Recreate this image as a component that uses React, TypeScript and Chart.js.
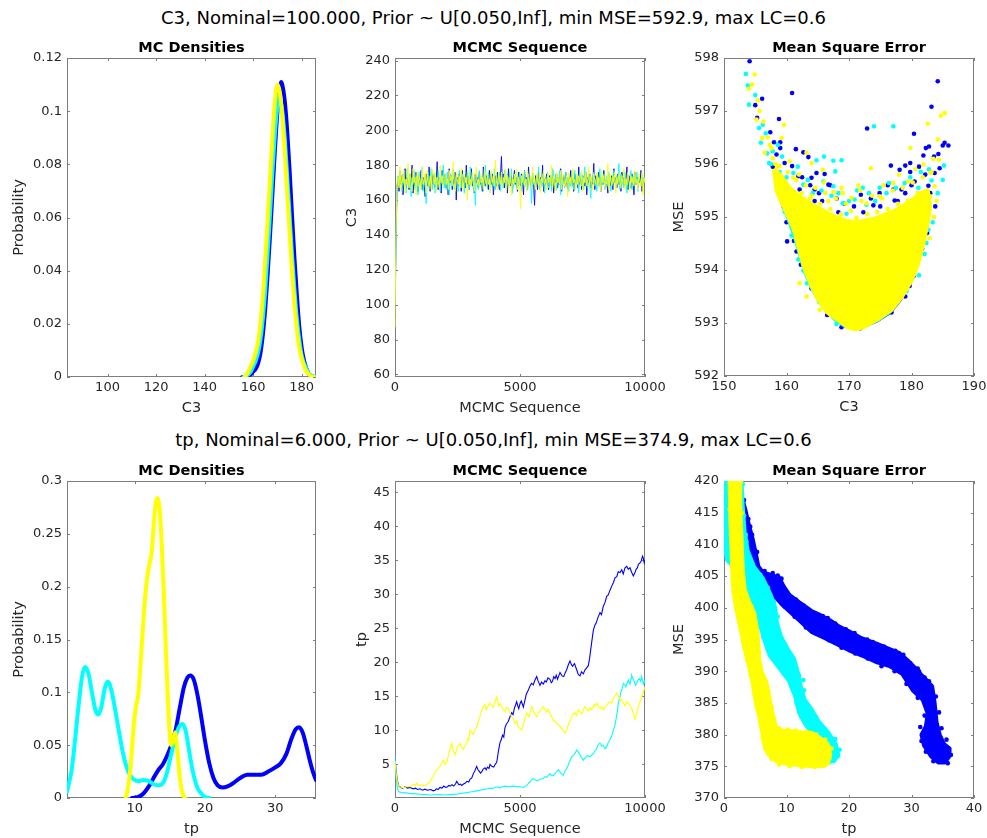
import React, { useEffect, useRef } from 'react';
import { Chart, registerables } from 'chart.js';

Chart.register(...registerables);

const FONT = '"DejaVu Sans", "Liberation Sans", sans-serif';
const BLUE = '#0000ff';
const CYAN = '#00ffff';
const YELLOW = '#ffff00';
const AXIS_COLOR = '#7d7d7d';
const TICK_TEXT = '#262626';

const SUPTITLE_TOP = 'C3, Nominal=100.000, Prior ~ U[0.050,Inf], min MSE=592.9, max LC=0.6';
const SUPTITLE_BOTTOM = 'tp, Nominal=6.000, Prior ~ U[0.050,Inf], min MSE=374.9, max LC=0.6';

// ---------- tick labels ----------
const C3_DENS_XTICKS = [100, 120, 140, 160, 180];
const C3_DENS_YTICKS = [0, 0.02, 0.04, 0.06, 0.08, 0.1, 0.12];
const SEQ_XTICKS = [0, 5000, 10000];
const C3_SEQ_YTICKS = [60, 80, 100, 120, 140, 160, 180, 200, 220, 240];
const C3_MSE_XTICKS = [150, 160, 170, 180, 190];
const C3_MSE_YTICKS = [592, 593, 594, 595, 596, 597, 598];
const TP_DENS_XTICKS = [10, 20, 30];
const TP_DENS_YTICKS = [0, 0.05, 0.1, 0.15, 0.2, 0.25, 0.3];
const TP_SEQ_YTICKS = [5, 10, 15, 20, 25, 30, 35, 40, 45];
const TP_MSE_XTICKS = [0, 10, 20, 30, 40];
const TP_MSE_YTICKS = [370, 375, 380, 385, 390, 395, 400, 405, 410, 415, 420];

// ---------- C3 densities ----------
const C3_DENS_BLUE_X = [155.5, 157, 158, 159, 160, 161, 162, 163, 164, 165, 166, 167, 168, 169, 170, 171, 171.5, 172, 173, 174, 175, 176, 177, 178, 179, 180, 181, 182, 183, 184, 185];
const C3_DENS_BLUE_Y = [0, 0, 0.0005, 0.001, 0.002, 0.003, 0.005, 0.009, 0.016, 0.026, 0.039, 0.054, 0.07, 0.086, 0.1, 0.109, 0.111, 0.11, 0.104, 0.093, 0.078, 0.061, 0.045, 0.031, 0.019, 0.011, 0.006, 0.003, 0.001, 0.0005, 0];
const C3_DENS_CYAN_X = [156, 158, 159, 160, 161, 162, 163, 164, 165, 166, 167, 168, 169, 170, 170.6, 171, 172, 173, 174, 175, 176, 177, 178, 179, 180, 181, 182, 183, 184, 185.5];
const C3_DENS_CYAN_Y = [0, 0.001, 0.002, 0.004, 0.006, 0.009, 0.014, 0.022, 0.033, 0.047, 0.062, 0.078, 0.092, 0.102, 0.106, 0.105, 0.1, 0.09, 0.076, 0.061, 0.046, 0.033, 0.022, 0.014, 0.008, 0.005, 0.003, 0.001, 0.0005, 0];
const C3_DENS_YELLOW_X = [156.5, 158, 159, 160, 161, 162, 163, 164, 165, 166, 167, 168, 169, 170, 171, 172, 173, 174, 175, 176, 177, 178, 179, 180, 181, 182, 183, 184, 185];
const C3_DENS_YELLOW_Y = [0, 0.002, 0.004, 0.006, 0.009, 0.013, 0.02, 0.03, 0.044, 0.059, 0.075, 0.091, 0.104, 0.11, 0.107, 0.098, 0.085, 0.07, 0.055, 0.04, 0.028, 0.018, 0.011, 0.007, 0.004, 0.002, 0.001, 0.0003, 0];

// ---------- C3 MCMC sequences (evenly spaced samples over 0..10000) ----------
const C3_SEQ_BLUE = [
  92, 135, 168, 172, 165, 176, 169, 174, 163, 171, 178, 167, 173, 170, 166, 175, 169, 180, 164, 172, 168, 176, 171, 165, 174,
  170, 177, 166, 173, 169, 162, 175, 171, 168, 179, 165, 172, 176, 169, 174, 167, 171, 182, 166, 173, 170, 164, 177, 169, 172,
  175, 167, 171, 163, 178, 170, 174, 166, 172, 169, 176, 160, 173, 168, 175, 171, 165, 177, 170, 173, 167, 180, 169, 174, 166,
  172, 178, 168, 171, 164, 175, 170, 173, 167, 176, 169, 172, 165, 179, 171, 168, 174, 170, 166, 177, 172, 169, 175, 163, 171,
  174, 168, 176, 170, 166, 173, 185, 169, 175, 167, 172, 170, 164, 178, 171, 168, 174, 166, 172, 177, 169, 173, 165, 176, 170,
  168, 175, 171, 163, 177, 169, 173, 166, 179, 170, 172, 167, 175, 169, 157, 174, 171, 166, 176, 170, 173, 168, 180, 165, 172,
  169, 175, 171, 166, 174, 170, 168, 177, 164, 172, 170, 175, 167, 173, 169, 178, 165, 171, 174, 168, 176, 170, 166, 173, 171,
  177, 168, 172, 165, 175, 170, 173, 167, 179, 169, 172, 166, 174, 171, 168, 176, 163, 173, 170, 175, 167, 172, 169, 181, 166,
  174, 170, 168, 176, 171, 165, 173, 169, 177, 167, 172, 170, 164, 175, 171, 168, 174, 166, 178, 170, 173, 167, 175, 169, 171,
  165, 176, 170, 173, 168, 172, 179, 166, 174, 170, 167, 175, 171, 163, 176, 169, 173, 167, 172, 170, 177, 165, 173, 169, 171,
];
const C3_SEQ_CYAN = [
  100, 138, 166, 174, 168, 177, 170, 165, 175, 169, 172, 164, 178, 171, 167, 175, 162, 173, 169, 177, 166, 174, 170, 163, 176,
  168, 173, 179, 165, 171, 174, 158, 169, 176, 167, 172, 178, 166, 170, 175, 164, 173, 168, 177, 171, 165, 174, 169, 180, 167,
  172, 166, 176, 170, 163, 175, 168, 173, 178, 166, 171, 174, 169, 165, 177, 172, 167, 175, 170, 164, 173, 168, 176, 171, 166,
  179, 169, 174, 167, 172, 157, 175, 170, 166, 177, 171, 168, 174, 165, 173, 180, 169, 167, 176, 172, 164, 175, 170, 168, 178,
  166, 173, 171, 169, 176, 165, 174, 170, 167, 177, 172, 166, 175, 168, 173, 170, 178, 164, 172, 169, 175, 167, 173, 170, 176,
  171, 165, 174, 169, 177, 168, 172, 166, 175, 170, 173, 158, 176, 169, 171, 167, 174, 170, 179, 166, 172, 168, 175, 171, 164,
  173, 169, 176, 167, 171, 174, 165, 178, 170, 168, 175, 166, 172, 170, 177, 163, 174, 169, 171, 167, 176, 170, 173, 165, 172,
  168, 175, 171, 166, 177, 169, 173, 170, 164, 176, 171, 168, 174, 166, 179, 170, 172, 167, 175, 169, 161, 173, 170, 176, 168,
  172, 165, 174, 170, 178, 167, 173, 169, 175, 166, 171, 174, 168, 176, 170, 165, 173, 169, 177, 171, 167, 174, 170, 181, 166,
  175, 169, 172, 167, 176, 170, 164, 173, 171, 168, 177, 166, 174, 169, 172, 170, 176, 165, 173, 171, 168, 175, 170, 173, 169,
];
const C3_SEQ_YELLOW = [
  87, 140, 170, 173, 167, 179, 166, 174, 170, 177, 164, 172, 169, 181, 167, 175, 171, 165, 178, 170, 173, 163, 176, 168, 174,
  171, 166, 179, 169, 172, 175, 164, 177, 170, 168, 174, 166, 178, 172, 169, 176, 165, 173, 171, 167, 180, 170, 174, 168, 172,
  175, 169, 172, 166, 177, 171, 174, 168, 182, 170, 165, 176, 172, 169, 174, 167, 178, 171, 166, 175, 170, 173, 160, 177, 169,
  172, 168, 176, 171, 165, 174, 179, 169, 172, 167, 175, 170, 173, 166, 178, 171, 168, 175, 169, 172, 164, 177, 170, 174, 168,
  183, 171, 166, 175, 172, 169, 176, 167, 173, 170, 178, 165, 174, 171, 168, 176, 163, 172, 169, 175, 170, 178, 166, 173, 171,
  155, 174, 170, 176, 168, 172, 165, 177, 171, 169, 174, 167, 179, 170, 173, 166, 175, 171, 168, 176, 164, 173, 170, 177, 169,
  172, 166, 175, 170, 173, 168, 180, 167, 174, 171, 165, 176, 170, 173, 169, 177, 166, 172, 175, 168, 171, 174, 162, 176, 170,
  173, 167, 178, 170, 172, 166, 175, 169, 174, 171, 168, 177, 165, 173, 170, 176, 168, 172, 179, 167, 174, 170, 166, 175, 171,
  169, 176, 168, 173, 171, 165, 177, 170, 174, 167, 172, 169, 181, 166, 175, 171, 168, 174, 170, 176, 164, 173, 169, 175, 171,
  167, 174, 170, 178, 166, 172, 169, 176, 171, 165, 174, 170, 173, 168, 177, 169, 172, 166, 175, 171, 168, 176, 163, 173, 170,
];

// ---------- C3 MSE scatter: dense cores (outlines) and sparse points ----------
const C3_MSE_BLUE_CORE = [[159.0, 595.4], [162, 595.1], [166, 594.9], [170, 594.7], [175, 594.8], [179, 595.05], [182.2, 595.3], [182.4, 595.0], [181.6, 594.5], [180.6, 594.05], [179.6, 593.75], [178.2, 593.45], [176.5, 593.2], [174.5, 593.05], [172.5, 592.95], [170.8, 592.92], [169.2, 592.96], [167.8, 593.1], [166, 593.3], [164.3, 593.65], [163.2, 593.95], [162.3, 594.3], [161.4, 594.65], [160.5, 594.95], [159.5, 595.2]];
const C3_MSE_CYAN_CORE = [[158.6, 595.5], [161.5, 595.2], [165, 595.0], [170, 594.75], [175, 594.85], [179, 595.1], [182.4, 595.4], [182.6, 595.05], [181.8, 594.55], [180.8, 594.1], [179.8, 593.8], [178.4, 593.5], [176.6, 593.22], [174.6, 593.06], [172.5, 592.95], [170.7, 592.91], [169.3, 592.95], [167.7, 593.08], [165.9, 593.3], [164.2, 593.63], [163.0, 593.95], [162.1, 594.32], [161.2, 594.67], [160.2, 595.0], [159.2, 595.3]];
const C3_MSE_YELLOW_CORE = [[158.0, 595.9], [159.0, 595.8], [160.5, 595.55], [162, 595.4], [163.5, 595.28], [165, 595.18], [166.5, 595.08], [168, 595.0], [169.5, 594.93], [171, 594.9], [172.5, 594.93], [174, 594.97], [175.5, 595.03], [177, 595.1], [178.5, 595.2], [180, 595.32], [181.5, 595.45], [182.6, 595.5], [183.0, 595.2], [182.6, 594.9], [181.9, 594.5], [181.0, 594.1], [180.0, 593.8], [178.5, 593.5], [176.8, 593.25], [175, 593.1], [173.5, 593.0], [172.3, 592.92], [171.0, 592.88], [169.8, 592.92], [168.3, 593.05], [166.5, 593.2], [165.0, 593.45], [163.8, 593.75], [162.8, 594.05], [162.0, 594.4], [161.2, 594.75], [160.3, 595.0], [159.3, 595.25], [158.4, 595.5]];
const C3_MSE_BLUE_PTS = [[154.1, 597.94], [156.1, 597.23], [155.0, 597.11], [160.9, 597.34], [155.3, 596.87], [158.8, 596.85], [157.4, 596.6], [158.0, 596.41], [159.0, 596.41], [159.0, 596.3], [161.5, 596.28], [162.7, 596.22], [163.5, 596.13], [158.4, 596.18], [159.7, 596.02], [160.9, 595.96], [161.9, 595.77], [164.0, 595.74], [164.8, 595.83], [166.1, 595.81], [166.7, 595.61], [162.1, 595.52], [161.3, 595.39], [164.5, 595.52], [165.7, 595.3], [168.3, 595.09], [172.9, 596.67], [176.7, 595.97], [178.1, 595.89], [179.0, 595.97], [179.8, 596.02], [180.4, 596.57], [179.8, 595.85], [180.5, 595.67], [181.9, 596.16], [182.3, 596.3], [182.8, 596.33], [183.2, 597.08], [184.2, 597.56], [183.6, 596.14], [184.3, 596.19], [185.0, 596.35], [185.3, 596.4], [185.9, 596.35], [184.5, 595.92], [183.7, 595.83], [182.7, 595.59], [182.0, 595.45], [174.9, 595.45], [177.1, 595.52], [178.4, 595.52], [181.6, 595.23], [181.3, 594.64], [180.5, 594.13], [180.3, 593.88], [179.7, 593.7], [160.1, 594.54], [161.6, 594.35], [163.5, 593.85], [164.8, 593.57], [170.1, 593.0], [168.8, 592.92], [173.9, 593.13], [172.3, 595.09], [173.9, 595.22], [177.3, 595.31], [164.5, 595.3],
  [157.8, 595.95], [159.2, 595.65], [160.4, 595.5], [161.0, 595.1], [162.5, 595.75], [163.8, 595.6], [165.2, 595.45], [167.0, 595.6], [168.0, 595.35], [169.3, 595.25], [170.8, 595.2], [171.9, 595.42], [173.5, 595.35], [175.0, 595.2], [176.2, 595.6], [177.8, 595.3], [179.0, 595.45], [180.0, 595.6], [181.2, 595.95], [182.2, 595.8], [183.0, 595.45], [183.8, 595.2], [182.5, 594.7], [181.7, 594.4], [179.0, 593.5], [176.8, 593.2], [174.0, 593.05], [171.8, 592.9], [166.5, 593.15], [164.0, 593.65], [162.3, 594.1], [161.2, 594.55], [160.0, 594.9], [159.3, 595.3]];
const C3_MSE_CYAN_PTS = [[153.5, 597.7], [153.8, 597.48], [154.0, 597.12], [156.2, 596.74], [155.6, 596.68], [156.7, 596.58], [158.6, 596.36], [157.8, 596.24], [159.3, 596.14], [157.2, 596.02], [158.4, 595.77], [159.6, 595.58], [164.8, 596.07], [166.0, 596.14], [167.5, 596.06], [168.8, 596.07], [167.8, 595.86], [174.0, 596.71], [177.1, 596.71], [165.9, 595.67], [167.5, 595.58], [162.7, 595.61], [161.1, 595.83], [172.2, 595.55], [174.9, 595.55], [176.4, 595.64], [178.9, 595.64], [181.1, 595.55], [183.2, 595.69], [185.0, 595.7], [185.2, 595.97], [182.7, 594.76], [182.4, 594.51], [163.7, 594.13], [162.7, 593.99], [169.0, 595.26], [170.9, 595.33], [172.8, 595.23], [177.1, 593.44], [166.7, 593.25], [169.6, 595.06],
  [157.5, 596.0], [158.9, 595.85], [160.0, 595.75], [161.8, 595.95], [163.4, 595.7], [164.2, 595.45], [165.6, 595.5], [167.2, 595.4], [168.3, 595.45], [170.0, 595.3], [171.3, 595.5], [173.2, 595.45], [174.2, 595.3], [176.0, 595.45], [177.5, 595.55], [179.8, 595.75], [181.5, 595.85], [182.8, 595.9], [184.2, 595.45], [183.4, 594.9], [182.1, 594.3], [181.2, 593.9], [179.2, 593.6], [176.0, 593.2], [168.0, 592.98], [165.2, 593.4], [163.3, 593.75], [161.9, 594.2], [160.8, 594.65], [159.7, 595.1], [158.7, 595.45], [156.9, 596.2], [155.9, 596.4], [155.0, 597.3]];
const C3_MSE_YELLOW_PTS = [[154.0, 597.42], [154.9, 597.69], [155.4, 597.2], [155.2, 596.84], [159.6, 596.74], [156.1, 596.49], [157.3, 596.36], [156.5, 596.21], [157.8, 596.11], [163.2, 596.21], [164.0, 596.02], [165.8, 595.89], [161.1, 595.74], [173.5, 595.92], [179.8, 596.3], [182.6, 596.76], [184.7, 596.91], [185.3, 596.96], [184.2, 596.46], [184.4, 596.08], [181.9, 595.99], [179.5, 595.67], [171.5, 595.6], [168.8, 595.55], [167.5, 595.47], [174.9, 595.39], [177.1, 595.64], [172.8, 595.26], [170.4, 595.36], [166.7, 595.3], [159.2, 596.49], [158.9, 595.96], [164.0, 595.4], [183.0, 595.83], [183.7, 595.58], [183.0, 595.39], [182.4, 595.14], [165.3, 593.25], [171.5, 593.0], [172.5, 592.97], [162.1, 593.75], [163.2, 593.5],
  [158.5, 595.95], [159.3, 595.7], [160.2, 595.85], [160.8, 595.5], [161.6, 595.7], [162.4, 595.45], [163.1, 595.6], [163.8, 595.35], [164.6, 595.55], [165.4, 595.25], [166.2, 595.45], [167.0, 595.15], [167.9, 595.35], [168.7, 595.05], [169.5, 595.25], [170.3, 595.12], [171.2, 594.98], [172.0, 595.3], [172.9, 595.05], [173.7, 595.4], [174.5, 595.1], [175.3, 595.35], [176.2, 595.15], [177.0, 595.5], [177.8, 595.25], [178.6, 595.55], [179.4, 595.3], [180.2, 595.65], [181.0, 595.45], [181.8, 595.75], [182.5, 595.5], [183.2, 595.85], [158.2, 596.0], [157.6, 596.3], [157.0, 596.5], [156.3, 596.8], [155.7, 597.0], [154.5, 597.5], [160.5, 596.05], [162.0, 595.8], [166.0, 595.65], [169.0, 595.45], [171.8, 595.5], [175.5, 595.6], [178.0, 595.8], [180.6, 595.9], [183.5, 596.1], [184.0, 595.3], [183.6, 595.0], [182.9, 594.6]];

// ---------- tp densities ----------
const TP_DENS_BLUE_X = [9.6, 10.5, 11.2, 12.0, 12.6, 13.3, 14.0, 14.6, 15.2, 15.8, 16.4, 17.0, 17.5, 17.9, 18.4, 19.0, 19.5, 20.0, 20.6, 21.2, 21.8, 22.5, 23.2, 24.0, 25.0, 26.0, 27.0, 28.0, 29.0, 30.0, 30.8, 31.6, 32.3, 32.9, 33.4, 33.9, 34.4, 34.9, 35.4, 35.8];
const TP_DENS_BLUE_Y = [0, 0.001, 0.004, 0.011, 0.018, 0.026, 0.032, 0.04, 0.05, 0.064, 0.085, 0.105, 0.114, 0.116, 0.112, 0.095, 0.075, 0.054, 0.033, 0.019, 0.012, 0.01, 0.011, 0.014, 0.019, 0.022, 0.022, 0.022, 0.025, 0.029, 0.033, 0.042, 0.056, 0.065, 0.067, 0.062, 0.05, 0.036, 0.024, 0.017];
const TP_DENS_CYAN_X = [0.35, 1.0, 1.5, 2.0, 2.5, 2.9, 3.4, 3.9, 4.4, 4.75, 5.2, 5.7, 6.1, 6.4, 6.8, 7.3, 7.8, 8.3, 8.8, 9.3, 9.8, 10.5, 11.2, 12.0, 12.7, 13.4, 14.0, 14.5, 15.0, 15.6, 16.2, 16.8, 17.3, 17.8, 18.3, 18.9, 19.5, 20.0, 20.6];
const TP_DENS_CYAN_Y = [0.006, 0.026, 0.055, 0.088, 0.115, 0.124, 0.118, 0.1, 0.083, 0.079, 0.085, 0.103, 0.11, 0.108, 0.098, 0.08, 0.061, 0.043, 0.03, 0.022, 0.018, 0.016, 0.017, 0.016, 0.013, 0.012, 0.014, 0.022, 0.036, 0.053, 0.066, 0.07, 0.062, 0.042, 0.024, 0.01, 0.004, 0.001, 0];
const TP_DENS_YELLOW_X = [8.7, 9.1, 9.5, 9.9, 10.2, 10.5, 10.9, 11.3, 11.7, 12.1, 12.4, 12.7, 13.0, 13.25, 13.5, 13.8, 14.1, 14.4, 14.7, 15.0, 15.2, 15.45, 15.75, 16.05, 16.4, 16.8, 17.2];
const TP_DENS_YELLOW_Y = [0, 0.012, 0.038, 0.072, 0.088, 0.098, 0.135, 0.175, 0.205, 0.222, 0.232, 0.258, 0.28, 0.284, 0.276, 0.245, 0.2, 0.145, 0.095, 0.058, 0.05, 0.055, 0.062, 0.045, 0.02, 0.004, 0];

// ---------- tp MCMC sequences: [iteration, tp] ----------
const TP_SEQ_BLUE = [[0, 6.0], [40, 4.2], [90, 2.6], [150, 1.8], [230, 1.6], [300, 1.5], [400, 1.7], [500, 1.5], [600, 1.6], [730, 1.4], [820, 1.5], [900, 1.3], [1000, 1.4], [1100, 1.2], [1200, 1.35], [1300, 1.2], [1420, 1.3], [1533, 1.1], [1600, 1.2], [1650, 1.4], [1720, 1.3], [1800, 1.6], [1880, 1.5], [1950, 1.8], [2030, 1.6], [2100, 1.7], [2150, 1.9], [2200, 1.8], [2280, 2.0], [2350, 1.8], [2420, 2.1], [2467, 2.5], [2520, 2.2], [2560, 2.0], [2620, 2.1], [2667, 1.9], [2740, 2.1], [2800, 2.2], [2880, 2.5], [2950, 2.4], [3000, 2.8], [3070, 3.0], [3130, 3.6], [3200, 4.1], [3267, 4.7], [3320, 4.2], [3367, 4.0], [3420, 3.7], [3467, 3.9], [3530, 4.3], [3600, 4.5], [3650, 4.2], [3700, 4.6], [3760, 4.4], [3800, 5.0], [3870, 4.7], [3950, 4.6], [4010, 5.0], [4067, 5.3], [4100, 6.0], [4130, 6.8], [4170, 7.6], [4200, 8.2], [4250, 8.6], [4300, 9.3], [4350, 9.0], [4400, 10.4], [4450, 10.9], [4530, 11.3], [4600, 12.0], [4667, 12.6], [4720, 12.3], [4780, 13.3], [4830, 13.8], [4867, 14.2], [4910, 13.6], [4950, 13.2], [5000, 13.9], [5050, 14.3], [5100, 13.8], [5133, 13.4], [5190, 14.3], [5250, 15.3], [5320, 15.8], [5400, 16.5], [5460, 16.9], [5530, 16.7], [5600, 17.4], [5667, 17.9], [5720, 17.3], [5800, 16.6], [5860, 17.1], [5933, 16.8], [6000, 17.3], [6050, 17.1], [6120, 17.7], [6200, 17.5], [6250, 17.0], [6300, 17.2], [6350, 17.9], [6400, 17.6], [6450, 18.1], [6500, 17.5], [6550, 18.0], [6600, 18.5], [6680, 18.0], [6750, 17.9], [6800, 18.4], [6867, 18.9], [6930, 19.6], [7000, 20.2], [7050, 19.7], [7100, 19.4], [7180, 19.8], [7267, 18.9], [7330, 18.2], [7400, 18.0], [7460, 18.6], [7533, 18.3], [7600, 18.9], [7650, 19.1], [7733, 19.5], [7780, 20.5], [7820, 21.6], [7870, 23.0], [7933, 24.7], [7990, 25.4], [8050, 25.8], [8120, 26.6], [8200, 27.3], [8260, 27.0], [8330, 28.2], [8400, 28.8], [8467, 29.7], [8530, 29.9], [8600, 30.6], [8670, 31.2], [8733, 31.7], [8800, 32.4], [8870, 32.6], [8930, 33.3], [9000, 33.2], [9070, 33.6], [9130, 33.0], [9200, 33.9], [9267, 34.1], [9330, 33.7], [9400, 33.9], [9470, 33.2], [9533, 32.7], [9600, 33.2], [9650, 33.7], [9700, 33.9], [9733, 34.4], [9800, 34.6], [9850, 34.9], [9900, 35.6], [9933, 35.3], [9970, 34.6], [10000, 35.0]];
const TP_SEQ_CYAN = [[0, 6.2], [40, 3.4], [80, 1.8], [133, 1.0], [220, 0.9], [300, 0.85], [380, 0.8], [467, 0.8], [580, 0.72], [700, 0.7], [850, 0.65], [1000, 0.6], [1200, 0.55], [1400, 0.5], [1600, 0.52], [1800, 0.55], [2000, 0.5], [2200, 0.55], [2350, 0.58], [2467, 0.6], [2600, 0.7], [2800, 0.8], [2950, 0.9], [3133, 1.0], [3270, 1.1], [3400, 1.2], [3500, 1.3], [3600, 1.35], [3700, 1.4], [3800, 1.5], [3900, 1.45], [4000, 1.6], [4100, 1.7], [4200, 1.55], [4300, 1.7], [4400, 1.8], [4500, 1.75], [4600, 1.7], [4700, 1.8], [4850, 1.75], [5000, 1.7], [5133, 1.6], [5220, 1.8], [5300, 2.0], [5350, 2.3], [5400, 2.4], [5460, 2.7], [5533, 2.9], [5620, 2.7], [5700, 2.6], [5800, 2.8], [5933, 2.9], [6000, 3.2], [6070, 3.1], [6140, 3.4], [6200, 3.6], [6260, 3.4], [6330, 3.3], [6430, 3.8], [6533, 4.2], [6600, 3.9], [6680, 3.5], [6733, 3.4], [6800, 4.0], [6900, 4.6], [6970, 5.3], [7067, 6.1], [7130, 6.3], [7200, 6.6], [7267, 7.1], [7330, 6.8], [7400, 6.4], [7460, 6.0], [7533, 5.6], [7600, 5.9], [7700, 6.3], [7800, 6.1], [7933, 6.6], [8000, 7.0], [8070, 7.3], [8130, 7.9], [8200, 8.1], [8270, 7.7], [8330, 7.8], [8400, 7.3], [8467, 7.6], [8530, 8.2], [8600, 8.6], [8670, 9.2], [8733, 10.0], [8800, 10.8], [8850, 11.8], [8900, 13.0], [8933, 14.0], [8980, 14.6], [9033, 15.6], [9090, 16.2], [9133, 16.9], [9190, 16.7], [9233, 16.4], [9290, 17.0], [9333, 17.4], [9370, 17.0], [9400, 16.8], [9440, 17.6], [9467, 18.1], [9520, 17.6], [9567, 17.2], [9620, 16.6], [9667, 16.9], [9720, 17.4], [9767, 17.6], [9820, 17.2], [9867, 17.9], [9900, 17.3], [9930, 16.8], [9970, 17.3], [10000, 16.9]];
const TP_SEQ_YELLOW = [[0, 5.5], [40, 3.8], [100, 2.2], [200, 1.5], [300, 1.6], [400, 1.6], [500, 1.8], [600, 1.7], [680, 1.9], [750, 2.1], [810, 1.9], [867, 2.2], [930, 2.0], [1000, 1.9], [1070, 2.0], [1133, 1.8], [1200, 1.9], [1280, 2.0], [1340, 2.3], [1400, 2.4], [1470, 2.9], [1530, 3.2], [1600, 3.8], [1667, 4.2], [1730, 4.4], [1800, 4.7], [1870, 5.2], [1933, 5.6], [2000, 5.0], [2067, 5.2], [2110, 5.9], [2150, 6.5], [2210, 7.4], [2267, 8.1], [2320, 7.2], [2400, 6.4], [2450, 7.0], [2500, 7.4], [2550, 7.9], [2600, 8.1], [2660, 7.5], [2730, 7.2], [2800, 7.8], [2867, 8.1], [2910, 8.8], [2950, 8.6], [3000, 10.0], [3070, 9.6], [3130, 9.4], [3200, 10.1], [3267, 10.5], [3330, 11.2], [3400, 12.0], [3460, 12.9], [3533, 13.5], [3590, 13.8], [3650, 13.0], [3720, 13.6], [3800, 14.0], [3860, 13.7], [3930, 13.4], [4000, 14.2], [4067, 14.9], [4110, 14.3], [4150, 13.6], [4210, 13.9], [4267, 13.5], [4330, 13.0], [4400, 12.8], [4470, 13.4], [4533, 13.2], [4600, 12.5], [4670, 12.0], [4740, 11.6], [4800, 11.0], [4870, 11.4], [4930, 10.5], [5000, 10.3], [5067, 10.0], [5120, 10.8], [5170, 11.3], [5220, 12.0], [5267, 12.5], [5320, 12.2], [5370, 12.0], [5420, 12.9], [5467, 13.5], [5520, 13.0], [5570, 12.6], [5620, 12.3], [5667, 12.0], [5730, 12.5], [5800, 12.8], [5870, 13.2], [5933, 13.5], [6000, 13.0], [6070, 12.7], [6130, 13.1], [6200, 12.5], [6270, 12.0], [6330, 11.5], [6400, 11.3], [6467, 11.0], [6550, 10.8], [6630, 10.5], [6720, 10.0], [6800, 9.6], [6870, 10.1], [6930, 10.8], [7000, 11.4], [7067, 12.0], [7130, 12.4], [7200, 12.6], [7270, 12.2], [7333, 13.0], [7400, 12.7], [7470, 12.4], [7530, 13.0], [7600, 13.5], [7670, 13.1], [7730, 12.8], [7800, 13.3], [7867, 13.0], [7920, 13.5], [7970, 13.8], [8020, 13.5], [8067, 14.0], [8130, 13.6], [8200, 13.2], [8270, 13.5], [8333, 13.0], [8400, 13.4], [8470, 13.7], [8530, 14.0], [8600, 14.2], [8670, 14.0], [8730, 14.6], [8800, 15.0], [8867, 15.5], [8920, 15.1], [8970, 14.8], [9020, 14.4], [9067, 14.5], [9130, 14.0], [9200, 13.6], [9270, 14.2], [9333, 14.0], [9400, 13.6], [9470, 13.2], [9530, 12.5], [9600, 11.6], [9660, 12.4], [9730, 13.5], [9800, 14.2], [9867, 14.9], [9900, 15.3], [9940, 15.7], [10000, 16.4]];

// ---------- tp MSE scatter: band outlines and sparse points ----------
const TP_MSE_BLUE_BAND = [[2.6, 418.5], [3.4, 415.5], [4.0, 413], [4.6, 410.8], [5.1, 408.5], [5.5, 406.5], [6.2, 405.6], [7.5, 405.2], [8.8, 404.8], [9.6, 403.3], [10.5, 402], [12, 400.9], [14, 399.5], [15.5, 398.8], [17, 398], [18.5, 397], [20, 396.3], [22, 395.2], [24.5, 394.3], [26.5, 393.5], [28, 392.9], [29.5, 391.6], [30.5, 390.6], [31.5, 389.5], [32.5, 388.5], [33.3, 387.6], [33.7, 385], [34.0, 382], [34.5, 380], [35.2, 378.5], [36.1, 377.8], [36.0, 376.5], [35.3, 375.6], [34.3, 375.6], [33.2, 376.5], [32.0, 378.3], [31.6, 380.0], [32.3, 381.3], [32.6, 383.3], [31.8, 385.5], [30.2, 387.0], [28.5, 389.6], [26.5, 390.8], [24.5, 391.4], [22.5, 392.3], [20, 393.3], [18, 394.3], [16, 395.3], [14, 396.2], [12.3, 397.8], [10.5, 399.4], [9.2, 400.6], [8.0, 402.0], [6.8, 402.9], [5.9, 403.6], [5.2, 405], [4.7, 407.5], [4.1, 410], [3.5, 412.5], [2.9, 414.5], [2.3, 417]];
const TP_MSE_CYAN_BAND = [[0.2, 420], [2.8, 420], [3.0, 416], [3.3, 412], [3.8, 409], [4.8, 406.5], [6.3, 404.5], [7.5, 402], [8.2, 400], [8.5, 397.5], [9.1, 395.5], [10.2, 393.5], [11.2, 392], [11.9, 389.5], [12.3, 387.5], [12.9, 385.5], [14.0, 384], [15.2, 382], [16.7, 380.3], [17.9, 378.5], [18.3, 376.8], [17.6, 375.8], [16.6, 376.0], [16.2, 377.5], [15.2, 378.6], [14.1, 380.2], [12.9, 381.8], [12.0, 383.5], [11.4, 386], [10.4, 388.5], [8.6, 390.8], [7.3, 392.5], [6.6, 394.5], [6.0, 396.5], [5.4, 398.5], [4.6, 400.8], [3.6, 402.8], [2.6, 404.8], [1.6, 406.5], [0.5, 407.5], [0.2, 409]];
const TP_MSE_YELLOW_BAND = [[0.9, 420], [2.6, 420], [2.6, 416], [2.8, 411], [3.0, 406], [3.3, 403], [4.0, 401], [4.9, 399], [5.4, 395.5], [5.6, 392], [6.0, 390], [6.8, 388.2], [7.3, 385.5], [7.8, 383.2], [8.3, 381.2], [9.4, 380.6], [11, 380.5], [12.5, 380.3], [14, 380.3], [15.3, 379.5], [16.6, 378.5], [17.0, 377], [16.6, 375.4], [15.5, 375], [13, 375.1], [11, 375.3], [9.2, 375.5], [8.2, 375.9], [7.0, 377], [6.4, 378.5], [6.1, 380.5], [5.6, 383], [5.1, 385], [4.6, 388], [4.0, 390.8], [3.3, 393.5], [2.8, 396], [2.2, 398.7], [1.7, 401.3], [1.4, 404], [1.2, 409], [1.0, 414.5]];
const TP_MSE_BLUE_PTS = [[8.6, 405.1], [10.9, 401.0], [15.8, 398.7], [14.9, 398.3], [19.0, 396.0], [21.0, 394.5], [31.0, 390.4], [30.8, 389.0], [28.1, 391.7], [33.1, 387.3], [32.0, 387.4], [3.8, 410.6], [4.2, 412.8], [5.0, 409.0], [36.0, 377.4], [31.7, 379.8], [24.0, 393.1], [26.5, 392.0],
  [3.2, 417.0], [3.9, 414.0], [4.5, 411.5], [5.3, 408.8], [5.0, 406.5], [6.5, 405.8], [7.8, 405.5], [9.2, 404.6], [9.8, 402.0], [11.5, 401.3], [12.8, 400.3], [13.5, 399.6], [16.6, 398.4], [17.8, 397.5], [19.5, 396.6], [20.9, 396.0], [22.9, 395.0], [23.8, 394.6], [25.6, 393.9], [27.4, 393.2], [28.7, 392.6], [29.8, 391.3], [31.2, 390.0], [32.1, 389.0], [32.8, 388.4], [33.9, 386.0], [34.4, 383.5], [34.8, 381.0], [35.6, 379.2], [36.3, 376.8], [35.8, 375.5], [33.5, 375.8], [32.3, 377.3], [31.6, 379.0], [31.4, 381.2], [32.1, 383.0], [31.0, 385.8], [29.2, 388.0], [27.3, 390.0], [25.2, 390.8], [23.0, 392.0], [21.0, 392.8], [18.8, 393.7], [16.8, 394.9], [14.8, 395.9], [13.1, 396.9], [11.3, 398.6], [9.7, 400.2], [8.4, 401.4]];
const TP_MSE_CYAN_PTS = [[2.5, 413.7], [3.5, 411.5], [4.8, 401.3], [5.0, 404.7], [6.9, 399.6], [12.7, 388.6], [17.0, 378.8], [18.2, 376.6], [0.3, 412], [3.0, 419.5],
  [0.4, 418.5], [0.3, 416], [0.2, 413.5], [0.4, 408.5], [1.2, 407.0], [2.2, 405.8], [3.2, 403.5], [4.2, 401.7], [5.0, 399.6], [5.8, 397.3], [6.3, 395.3], [7.0, 393.4], [8.2, 391.6], [9.6, 390.0], [10.8, 387.6], [11.6, 385.0], [12.4, 382.8], [13.5, 381.0], [14.8, 379.6], [15.8, 377.6], [16.9, 375.7], [18.5, 377.6], [17.8, 379.3], [16.2, 380.8], [14.6, 382.8], [13.2, 384.6], [12.8, 387.0], [12.0, 389.3], [11.0, 391.8], [9.5, 393.8], [8.8, 395.4], [8.6, 398.6], [8.0, 401.0], [7.0, 403.2], [5.8, 405.2], [4.2, 407.3], [3.6, 410.4], [3.2, 414.5], [2.9, 418.0], [1.5, 419.3]];
const TP_MSE_YELLOW_PTS = [[2.7, 419.8], [2.3, 416.4], [2.1, 415.3], [4.8, 399.0], [6.5, 388.4], [5.6, 393.0], [10.0, 380.0], [12.5, 379.5], [16.5, 378.0],
  [1.0, 418], [0.9, 415.5], [1.1, 411.5], [1.3, 406.5], [1.5, 402.5], [2.0, 400.0], [2.6, 397.2], [3.1, 394.5], [3.7, 391.8], [4.3, 389.3], [4.9, 386.4], [5.4, 384.0], [5.9, 381.8], [6.2, 379.5], [6.6, 377.8], [7.6, 376.2], [8.8, 375.3], [10.5, 375.0], [12.5, 374.9], [14.5, 374.9], [16.0, 375.1], [16.9, 376.3], [17.2, 377.8], [16.2, 379.2], [14.8, 380.0], [13.2, 380.5], [11.5, 380.6], [10.2, 380.8], [8.8, 381.0], [8.0, 382.3], [7.6, 384.3], [7.1, 386.8], [6.2, 389.2], [5.8, 391.0], [5.5, 393.8], [5.2, 397.0], [4.4, 400.2], [3.4, 402.0], [2.9, 404.8], [2.8, 408.5], [2.6, 412.5], [2.9, 415.0]];

// ---------- helpers ----------
const fromXY = (xs, ys) => xs.map((x, i) => ({ x, y: ys[i] }));
const fromPairs = (p) => p.map(([x, y]) => ({ x, y }));
const closed = (p) => fromPairs([...p, p[0]]);
const evenSeq = (vals) => vals.map((y, i) => ({ x: (i * 10000) / (vals.length - 1), y }));

const curve = (data, color, order) => ({ data, showLine: true, borderColor: color, backgroundColor: color, borderWidth: 4, pointRadius: 0, cubicInterpolationMode: 'monotone', fill: false, order, borderJoinStyle: 'round', borderCapStyle: 'round' });
const trace = (data, color, order, width = 1) => ({ data, showLine: true, borderColor: color, backgroundColor: color, borderWidth: width, pointRadius: 0, fill: false, order });
const blob = (data, color, order) => ({ data, showLine: true, borderColor: color, backgroundColor: color, borderWidth: 4, pointRadius: 0, fill: 'shape', order, borderJoinStyle: 'round', clip: 0 });
const dots = (data, color, order) => ({ data, showLine: false, pointRadius: 2.3, pointBackgroundColor: color, backgroundColor: color, pointBorderWidth: 0, borderWidth: 0, order, clip: 0 });

const TITLE_H = 20;
const XH = 40;
const PADR = 30;
const TL = 3;

const boxPlugin = {
  id: 'matlabBox',
  beforeDatasetsDraw(chart) {
    const { ctx, chartArea: a, scales } = chart;
    ctx.save();
    ctx.strokeStyle = AXIS_COLOR;
    ctx.lineWidth = 1;
    ctx.strokeRect(a.left + 0.5, a.top + 0.5, a.right - a.left - 1, a.bottom - a.top - 1);
    ctx.beginPath();
    for (const t of scales.x.ticks) {
      const px = Math.round(scales.x.getPixelForValue(t.value)) + 0.5;
      ctx.moveTo(px, a.bottom); ctx.lineTo(px, a.bottom - TL);
      ctx.moveTo(px, a.top); ctx.lineTo(px, a.top + TL);
    }
    for (const t of scales.y.ticks) {
      const py = Math.round(scales.y.getPixelForValue(t.value)) + 0.5;
      ctx.moveTo(a.left, py); ctx.lineTo(a.left + TL, py);
      ctx.moveTo(a.right, py); ctx.lineTo(a.right - TL, py);
    }
    ctx.stroke();
    ctx.restore();
  },
};

const fmt = (v) => String(Number(Number(v).toFixed(6)));

function axis(min, max, ticks, label, isX, labelPad) {
  return {
    type: 'linear',
    min,
    max,
    afterBuildTicks: (s) => { s.ticks = ticks.map((v) => ({ value: v })); },
    afterFit: (s) => { if (isX) s.height = XH; else s.width = labelPad.w; },
    grid: { display: false, drawTicks: false },
    border: { display: false },
    ticks: { font: { family: FONT, size: 13 }, color: TICK_TEXT, padding: isX ? 3 : 5, maxRotation: 0, autoSkip: false, callback: (v) => fmt(v) },
    title: {
      display: true,
      text: label,
      color: TICK_TEXT,
      font: { family: FONT, size: 14.5, lineHeight: 1.2 },
      padding: isX ? { top: 0, bottom: 0.3 } : { top: labelPad.top, bottom: 0 },
    },
  };
}

const PANELS = [
  {
    left: 67, top: 58, right: 316, bottom: 377, yOff: 48,
    title: 'MC Densities', xLabel: 'C3', yLabel: 'Probability',
    x: [83.3, 185.9, C3_DENS_XTICKS], y: [0, 0.12, C3_DENS_YTICKS],
    datasets: () => [
      curve(fromXY(C3_DENS_YELLOW_X, C3_DENS_YELLOW_Y), YELLOW, 0),
      curve(fromXY(C3_DENS_CYAN_X, C3_DENS_CYAN_Y), CYAN, 1),
      curve(fromXY(C3_DENS_BLUE_X, C3_DENS_BLUE_Y), BLUE, 2),
    ],
  },
  {
    left: 395, top: 58, right: 645, bottom: 377, yOff: 42.5,
    title: 'MCMC Sequence', xLabel: 'MCMC Sequence', yLabel: 'C3',
    x: [0, 10000, SEQ_XTICKS], y: [58.5, 241.5, C3_SEQ_YTICKS],
    datasets: () => [
      trace(evenSeq(C3_SEQ_YELLOW), YELLOW, 0, 0.9),
      trace(evenSeq(C3_SEQ_CYAN), CYAN, 1, 0.9),
      trace(evenSeq(C3_SEQ_BLUE), BLUE, 2, 0.9),
    ],
  },
  {
    left: 724, top: 58, right: 974, bottom: 376, yOff: 44.5,
    title: 'Mean Square Error', xLabel: 'C3', yLabel: 'MSE',
    x: [150, 190, C3_MSE_XTICKS], y: [592, 598, C3_MSE_YTICKS],
    datasets: () => [
      blob(closed(C3_MSE_YELLOW_CORE), YELLOW, 0),
      dots(fromPairs(C3_MSE_YELLOW_PTS), YELLOW, 1),
      blob(closed(C3_MSE_CYAN_CORE), CYAN, 2),
      dots(fromPairs(C3_MSE_CYAN_PTS), CYAN, 3),
      blob(closed(C3_MSE_BLUE_CORE), BLUE, 4),
      dots(fromPairs(C3_MSE_BLUE_PTS), BLUE, 5),
    ],
  },
  {
    left: 67, top: 481, right: 316, bottom: 798, yOff: 48,
    title: 'MC Densities', xLabel: 'tp', yLabel: 'Probability',
    x: [0.35, 35.8, TP_DENS_XTICKS], y: [0, 0.3, TP_DENS_YTICKS],
    datasets: () => [
      curve(fromXY(TP_DENS_YELLOW_X, TP_DENS_YELLOW_Y), YELLOW, 0),
      curve(fromXY(TP_DENS_CYAN_X, TP_DENS_CYAN_Y), CYAN, 1),
      curve(fromXY(TP_DENS_BLUE_X, TP_DENS_BLUE_Y), BLUE, 2),
    ],
  },
  {
    left: 395, top: 481, right: 645, bottom: 798, yOff: 33,
    title: 'MCMC Sequence', xLabel: 'MCMC Sequence', yLabel: 'tp',
    x: [0, 10000, SEQ_XTICKS], y: [0.05, 46.65, TP_SEQ_YTICKS],
    datasets: () => [
      trace(fromPairs(TP_SEQ_YELLOW), YELLOW, 0, 1.1),
      trace(fromPairs(TP_SEQ_CYAN), CYAN, 1, 1.1),
      trace(fromPairs(TP_SEQ_BLUE), BLUE, 2, 1.1),
    ],
  },
  {
    left: 724, top: 481, right: 974, bottom: 798, yOff: 44.5,
    title: 'Mean Square Error', xLabel: 'tp', yLabel: 'MSE',
    x: [0, 40, TP_MSE_XTICKS], y: [370, 420, TP_MSE_YTICKS],
    datasets: () => [
      blob(closed(TP_MSE_YELLOW_BAND), YELLOW, 0),
      dots(fromPairs(TP_MSE_YELLOW_PTS), YELLOW, 1),
      blob(closed(TP_MSE_CYAN_BAND), CYAN, 2),
      dots(fromPairs(TP_MSE_CYAN_PTS), CYAN, 3),
      blob(closed(TP_MSE_BLUE_BAND), BLUE, 4),
      dots(fromPairs(TP_MSE_BLUE_PTS), BLUE, 5),
    ],
  },
];

function Panel({ spec }) {
  const ref = useRef(null);
  const yw = Math.round(spec.yOff + 12);
  const labelPad = { w: yw, top: yw - spec.yOff - 8.7 };
  const w = spec.right - spec.left + yw + PADR;
  const h = spec.bottom - spec.top + TITLE_H + XH;

  useEffect(() => {
    const chart = new Chart(ref.current, {
      type: 'scatter',
      data: { datasets: spec.datasets() },
      options: {
        animation: false,
        responsive: false,
        maintainAspectRatio: false,
        devicePixelRatio: 1,
        layout: { padding: { left: 0, right: PADR, top: 0, bottom: 0 } },
        plugins: {
          legend: { display: false },
          tooltip: { enabled: false },
          title: {
            display: true,
            text: spec.title,
            fullSize: false,
            color: '#000',
            font: { family: FONT, size: 14.5, weight: 'bold', lineHeight: 1.2 },
            padding: { top: 1.3, bottom: 1.3 },
          },
        },
        scales: {
          x: axis(spec.x[0], spec.x[1], spec.x[2], spec.xLabel, true, labelPad),
          y: axis(spec.y[0], spec.y[1], spec.y[2], spec.yLabel, false, labelPad),
        },
      },
      plugins: [boxPlugin],
    });
    return () => chart.destroy();
  }, [spec]);

  return (
    <canvas
      ref={ref}
      width={w}
      height={h}
      style={{ position: 'absolute', left: spec.left - yw, top: spec.top - TITLE_H, width: w, height: h }}
    />
  );
}

export default function App() {
  const sup = { position: 'absolute', left: 0, width: 987, textAlign: 'center', fontSize: 18, lineHeight: '22px', color: '#000', fontFamily: FONT, whiteSpace: 'nowrap' } as React.CSSProperties;
  return (
    <div style={{ position: 'absolute', left: 0, top: 0, width: 987, height: 838, background: '#fff', overflow: 'hidden' }}>
      <div style={{ ...sup, top: 7 }}>{SUPTITLE_TOP}</div>
      <div style={{ ...sup, top: 429 }}>{SUPTITLE_BOTTOM}</div>
      {PANELS.map((p, i) => <Panel key={i} spec={p} />)}
    </div>
  );
}
